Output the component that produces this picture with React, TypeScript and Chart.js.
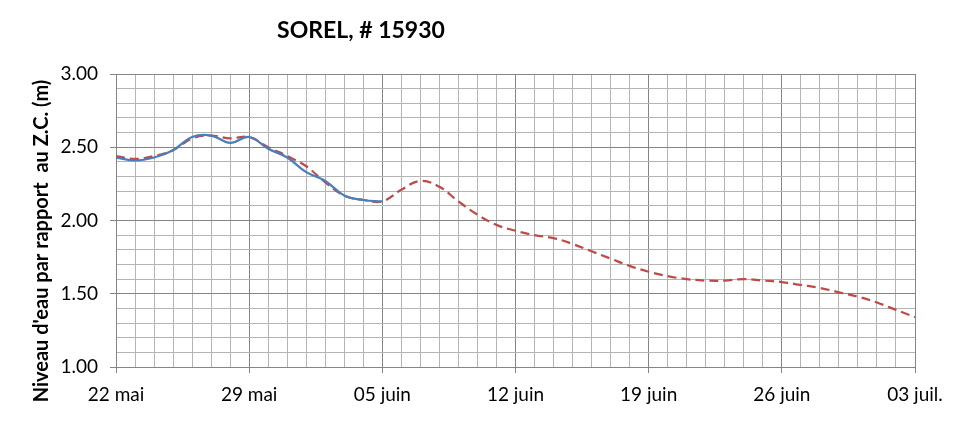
import React, { useEffect, useRef } from "react";
import { Chart, registerables } from "chart.js";

Chart.register(...registerables);

// Day index 0 = 22 mai
const xTickLabels = ["22 mai", "29 mai", "05 juin", "12 juin", "19 juin", "26 juin", "03 juil."];
const observed = [2.43, 2.41, 2.43, 2.48, 2.57, 2.58, 2.53, 2.57, 2.49, 2.43, 2.33, 2.27, 2.17, 2.14, 2.13];
const forecast = [
  2.44, 2.42, 2.44, 2.48, 2.56, 2.58, 2.56, 2.57, 2.5, 2.44, 2.37, 2.26, 2.17, 2.14, 2.13,
  2.21, 2.27, 2.23, 2.13, 2.04, 1.97, 1.93, 1.9, 1.88, 1.84, 1.79, 1.74, 1.69, 1.65, 1.62,
  1.6, 1.59, 1.59, 1.6, 1.59, 1.58, 1.56, 1.54, 1.51, 1.48, 1.44, 1.39, 1.34,
];
const chartTitle = "SOREL, # 15930";
const yAxisTitle = "Niveau d'eau par rapport  au Z.C. (m)";

const FONT = "Lato, 'DejaVu Sans', sans-serif";
const MAJOR = "#858585";
const MINOR = "#B4B4B4";

export default function App() {
  const ref = useRef<HTMLCanvasElement | null>(null);
  useEffect(() => {
    if (!ref.current) return;
    const isMajorY = (v: number) => Math.abs(v * 2 - Math.round(v * 2)) < 1e-6;
    const isMajorX = (v: number) => Math.round(v) % 7 === 0;
    const textPlugin = {
      id: "texts",
      afterDraw(chart: any) {
        const ctx = chart.ctx;
        ctx.save();
        ctx.fillStyle = "#000";
        ctx.font = `bold 23px ${FONT}`;
        ctx.textAlign = "center";
        ctx.textBaseline = "middle";
        ctx.fillText(chartTitle, 361, 31);
        ctx.translate(42, 241);
        ctx.rotate(-Math.PI / 2);
        ctx.font = `bold 20px ${FONT}`;
        ctx.fillText(yAxisTitle, 0, 0);
        ctx.restore();
      },
    };
    const chart = new Chart(ref.current, {
      type: "line",
      data: {
        datasets: [
          {
            label: "Observé",
            data: observed.map((v, i) => ({ x: i, y: v })),
            borderColor: "#4A7EBB",
            borderWidth: 2.25,
            pointRadius: 0,
            tension: 0.4,
            fill: false,
          },
          {
            label: "Prévision",
            data: forecast.map((v, i) => ({ x: i, y: v })),
            borderColor: "#BE4B48",
            borderWidth: 2.25,
            borderDash: [9, 5],
            pointRadius: 0,
            tension: 0.4,
            fill: false,
          },
        ],
      },
      options: {
        responsive: false,
        animation: false,
        layout: { padding: { top: 74, right: 56, left: 0, bottom: 0 } },
        plugins: { legend: { display: false }, title: { display: false }, tooltip: { enabled: false } },
        scales: {
          x: {
            type: "linear",
            min: 0,
            max: 42,
            afterFit: (s: any) => {
              s.height = 54;
            },
            ticks: {
              stepSize: 1,
              autoSkip: false,
              maxRotation: 0,
              padding: 10,
              color: "#000",
              font: { family: FONT, size: 19 },
              callback: (v: any) => (isMajorX(v) ? xTickLabels[Math.round(v) / 7] : ""),
            },
            grid: {
              color: (c: any) => (isMajorX(c.tick.value) ? MAJOR : MINOR),
              tickColor: (c: any) => (isMajorX(c.tick.value) ? MAJOR : "rgba(0,0,0,0)"),
              tickLength: 6,
              lineWidth: 1,
            },
            border: { color: MAJOR },
          },
          y: {
            min: 1,
            max: 3,
            afterFit: (s: any) => {
              s.width = 116;
            },
            ticks: {
              stepSize: 0.1,
              autoSkip: false,
              padding: 12,
              color: "#000",
              font: { family: FONT, size: 19 },
              callback: (v: any) => (isMajorY(v) ? Number(v).toFixed(2) : ""),
            },
            grid: {
              color: (c: any) => (isMajorY(c.tick.value) ? MAJOR : MINOR),
              tickColor: (c: any) => (isMajorY(c.tick.value) ? MAJOR : "rgba(0,0,0,0)"),
              tickLength: 6,
              lineWidth: 1,
            },
            border: { color: MAJOR },
          },
        },
      },
      plugins: [textPlugin],
    } as any);
    return () => chart.destroy();
  }, []);
  return (
    <div style={{ position: "absolute", left: 0, top: 0, width: 971, height: 421, background: "#fff" }}>
      <canvas ref={ref} width={971} height={421} />
    </div>
  );
}
